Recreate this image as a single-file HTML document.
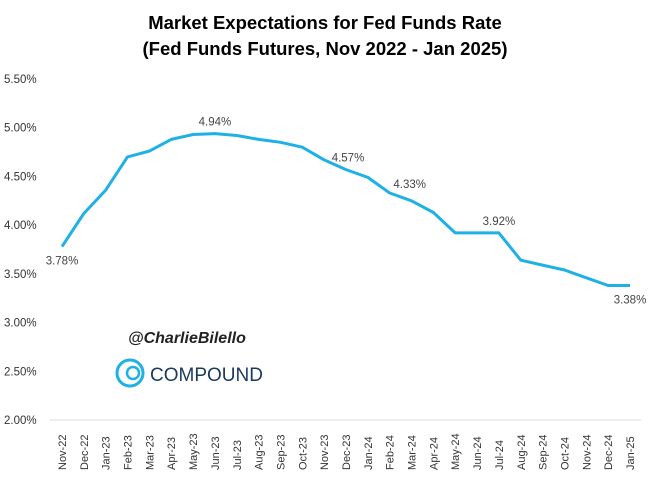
<!DOCTYPE html>
<html><head><meta charset="utf-8"><style>
body{margin:0;background:#fff;width:651px;height:478px;overflow:hidden;font-family:"Liberation Sans",sans-serif}
</style></head><body>
<svg id="chart" width="651" height="478" xmlns="http://www.w3.org/2000/svg">
<text x="325" y="29" text-anchor="middle" font-size="18.5" font-weight="bold" fill="#000">Market Expectations for Fed Funds Rate</text>
<text x="325" y="55" text-anchor="middle" font-size="18.5" font-weight="bold" fill="#000">(Fed Funds Futures, Nov 2022 - Jan 2025)</text>
<g id="yaxis"></g>
<g id="xaxis"></g>
<line x1="50" y1="420" x2="641" y2="420" stroke="#d9d9d9" stroke-width="1"/>
<path id="line" fill="none" stroke="#1fb0e6" stroke-width="3" stroke-linejoin="round"/>
<g id="labels"></g>
<text x="128" y="343" font-size="16" font-weight="bold" font-style="italic" fill="#222">@CharlieBilello</text>
<g>
<circle cx="130" cy="373" r="13" fill="none" stroke="#1fb0e6" stroke-width="3"/>
<circle cx="133" cy="373" r="6" fill="none" stroke="#1fb0e6" stroke-width="2.5"/>
<text x="150" y="381" font-size="19" fill="#1b3a5c">COMPOUND</text>
</g>
</svg>
<script>
const categories=["Nov-22","Dec-22","Jan-23","Feb-23","Mar-23","Apr-23","May-23","Jun-23","Jul-23","Aug-23","Sep-23","Oct-23","Nov-23","Dec-23","Jan-24","Feb-24","Mar-24","Apr-24","May-24","Jun-24","Jul-24","Aug-24","Sep-24","Oct-24","Nov-24","Dec-24","Jan-25"];
const rates=[3.78,4.12,4.36,4.70,4.76,4.88,4.93,4.94,4.92,4.88,4.85,4.80,4.67,4.57,4.49,4.33,4.25,4.13,3.92,3.92,3.92,3.64,3.59,3.54,3.46,3.38,3.38];
const yTicks=[2.0,2.5,3.0,3.5,4.0,4.5,5.0,5.5];
const labelIdx=[0,7,13,15,20,26];
const NS="http://www.w3.org/2000/svg";
const x0=62,x1=630,yTop=79,yBot=420,vMin=2,vMax=5.5;
function X(i){return x0+(x1-x0)*i/(categories.length-1);}
function Y(v){return yBot-(v-vMin)/(vMax-vMin)*(yBot-yTop);}
const ya=document.getElementById('yaxis');
yTicks.forEach(t=>{const e=document.createElementNS(NS,'text');


e.setAttribute('x',4);e.setAttribute('y',Y(t)+4);e.setAttribute('font-size','11.5');e.setAttribute('fill','#333');e.textContent=t.toFixed(2)+'%';ya.appendChild(e);});
const xa=document.getElementById('xaxis');
categories.forEach((c,i)=>{const e=document.createElementNS(NS,'text');


const x=X(i)+4,y=470;e.setAttribute('x',x);e.setAttribute('y',y);e.setAttribute('transform','rotate(-90 '+x+' '+y+')');e.setAttribute('font-size','11');e.setAttribute('fill','#333');e.textContent=c;xa.appendChild(e);});
document.getElementById('line').setAttribute('d',rates.map((v,i)=>(i?'L':'M')+X(i).toFixed(1)+' '+Y(v).toFixed(1)).join(' '));
const lb=document.getElementById('labels');
labelIdx.forEach(i=>{const e=document.createElementNS(NS,'text');


let x=X(i),y=Y(rates[i])-8;
if(i===0){y=Y(rates[i])+18;}
if(i===26){y=Y(rates[i])+18;}
if(i===15){x+=20;y=Y(rates[i])-5;}
if(i===13){x+=2;}
e.setAttribute('x',x);e.setAttribute('y',y);e.setAttribute('text-anchor','middle');e.setAttribute('font-size','11.5');e.setAttribute('fill','#444');e.textContent=rates[i].toFixed(2)+'%';lb.appendChild(e);});
</script>
</body></html>
